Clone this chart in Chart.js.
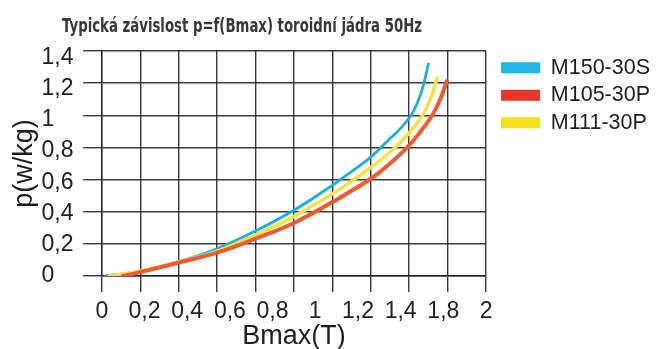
<!DOCTYPE html>
<html>
<head>
<meta charset="utf-8">
<script src="https://cdn.jsdelivr.net/npm/chart.js@4.4.0/dist/chart.umd.min.js"></script>
<style>
  html, body { margin: 0; padding: 0; background: #fff; }
  #wrap { width: 665px; height: 349px; }
</style>
</head>
<body>
<div id="wrap"><canvas id="myChart"></canvas></div>
<script>
// Chart text
const chartTitle = 'Typická závislost p=f(Bmax) toroidní jádra 50Hz';
const seriesNames = ['M150-30S', 'M105-30P', 'M111-30P'];

// Tick labels (as printed on the original)
const xTickLabels = ['0', '0,2', '0,4', '0,6', '0,8', '1', '1,2', '1,4', '1,8', '2'];
const yTickValues = [0, 0.2, 0.4, 0.6, 0.8, 1, 1.2, 1.4];
const yTickLabels = ['0', '0,2', '0,4', '0,6', '0,8', '1', '1,2', '1,4'];

// M150-30S
const bM150 = [0.02, 0.2, 0.4, 0.6, 0.8, 1.0, 1.2, 1.3, 1.4, 1.5, 1.56, 1.61, 1.64, 1.67, 1.70];
const pM150 = [0.0, 0.03, 0.09, 0.17, 0.28, 0.409, 0.564, 0.65, 0.74, 0.855, 0.925, 1.0, 1.07, 1.17, 1.32];

// M105-30P
const bM105 = [0.11, 0.2, 0.4, 0.6, 0.8, 1.0, 1.2, 1.4, 1.5, 1.59, 1.65, 1.72, 1.76, 1.796];
const pM105 = [0.0, 0.024, 0.083, 0.145, 0.232, 0.33, 0.46, 0.605, 0.70, 0.8, 0.885, 1.0, 1.095, 1.213];

// M111-30P
const bM111 = [0.04, 0.2, 0.4, 0.6, 0.8, 1.0, 1.2, 1.3, 1.4, 1.5, 1.6, 1.67, 1.71, 1.745];
const pM111 = [0.0, 0.03, 0.088, 0.155, 0.255, 0.371, 0.51, 0.59, 0.675, 0.77, 0.89, 1.0, 1.1, 1.23];

const FONT = '"Liberation Sans", Arial, sans-serif';
const gridColor = 'rgba(35,35,35,0.9)';
const textColor = '#1e1e1e';

const pts = (xs, ys) => xs.map((x, i) => ({x: x, y: ys[i]}));

// title drawn left of centre, like the original
const titlePlugin = {
    id: 'topTitle',
    afterDraw(chart) {
        const ctx = chart.ctx;
        ctx.save();
        ctx.font = 'bold 19.5px "DejaVu Sans", sans-serif';
        ctx.fillStyle = '#383838';
        ctx.textBaseline = 'middle';
        ctx.textAlign = 'left';
        ctx.fillText(chartTitle, 62, 27, 360);
        ctx.restore();
    }
};

window.onload = function () {
    Chart.defaults.font.family = FONT;
    Chart.defaults.color = textColor;

    const ctx = document.getElementById('myChart');
    const myChart = new Chart(ctx, {
        type: 'line',
        data: {
            datasets: [{
                label: seriesNames[0],
                data: pts(bM150, pM150),
                borderColor: '#1BAEE2',
                backgroundColor: '#1FB4E9',
                borderWidth: 2.8,
                order: 2
            }, {
                label: seriesNames[1],
                data: pts(bM105, pM105),
                borderColor: '#EE5A2E',
                backgroundColor: '#E6372C',
                borderWidth: 4,
                order: 0
            }, {
                label: seriesNames[2],
                data: pts(bM111, pM111),
                borderColor: '#F4E444',
                backgroundColor: '#F6DE1C',
                borderWidth: 3.6,
                order: 1
            }]
        },
        options: {
            responsive: true,
            maintainAspectRatio: false,
            animation: false,
            layout: {
                padding: {top: 51, right: 5, bottom: 0, left: 0}
            },
            elements: {
                point: {radius: 0},
                line: {tension: 0.4, fill: false, borderCapStyle: 'round'}
            },
            plugins: {
                title: {display: false},
                tooltip: {enabled: false},
                legend: {
                    display: true,
                    position: 'right',
                    align: 'start',
                    maxWidth: 200,
                    labels: {
                        boxWidth: 39,
                        boxHeight: 11,
                        padding: 6,
                        color: textColor,
                        font: {family: FONT, size: 21.5},
                        sort: (a, b) => a.datasetIndex - b.datasetIndex,
                        generateLabels: function (chart) {
                            const items = Chart.defaults.plugins.legend.labels.generateLabels(chart);
                            items.forEach(it => {
                                it.lineWidth = 0;
                                it.strokeStyle = 'rgba(0,0,0,0)';
                            });
                            return items;
                        }
                    }
                }
            },
            scales: {
                x: {
                    type: 'linear',
                    position: 'bottom',
                    weight: 0,
                    min: 0,
                    max: 2,
                    ticks: {display: false, stepSize: 0.2},
                    grid: {color: gridColor, lineWidth: 1.4, tickLength: 16, drawTicks: true},
                    border: {color: gridColor, width: 1.4}
                },
                xLab: {
                    type: 'linear',
                    axis: 'x',
                    position: 'bottom',
                    weight: 1,
                    min: 0,
                    max: 9,
                    afterBuildTicks: s => { s.ticks = xTickLabels.map((t, i) => ({value: i})); },
                    ticks: {
                        autoSkip: false,
                        maxRotation: 0,
                        padding: 8,
                        color: textColor,
                        font: {size: 23, lineHeight: 1},
                        callback: (v, i) => xTickLabels[i]
                    },
                    grid: {display: false, drawTicks: false},
                    border: {display: false},
                    title: {
                        display: true,
                        text: 'Bmax(T)',
                        color: textColor,
                        font: {size: 27, lineHeight: '10.5px'},
                        padding: {top: 0, bottom: 7.5}
                    }
                },
                y: {
                    type: 'linear',
                    position: 'left',
                    weight: 0,
                    min: 0,
                    max: 1.4,
                    ticks: {display: false, stepSize: 0.2},
                    grid: {color: gridColor, lineWidth: 1.4, tickLength: 18.7, drawTicks: true},
                    border: {color: gridColor, width: 1.4}
                },
                yLab: {
                    type: 'linear',
                    axis: 'y',
                    position: 'left',
                    weight: 1,
                    min: 0,
                    max: 1.44,
                    afterBuildTicks: s => { s.ticks = yTickValues.map(v => ({value: v})); },
                    ticks: {
                        autoSkip: false,
                        crossAlign: 'far',
                        padding: 4.8,
                        color: textColor,
                        font: {size: 23, lineHeight: 1},
                        callback: (v, i) => yTickLabels[i]
                    },
                    grid: {display: false, drawTicks: false},
                    border: {display: false}
                },
                yTitle: {
                    type: 'linear',
                    axis: 'y',
                    position: 'left',
                    weight: 2,
                    ticks: {display: false},
                    grid: {display: false, drawTicks: false},
                    border: {display: false},
                    title: {
                        display: true,
                        text: 'p(w/kg)',
                        color: textColor,
                        font: {size: 27, lineHeight: 1},
                        padding: {top: 11.5, bottom: 3}
                    }
                },
                gap: {
                    type: 'linear',
                    axis: 'y',
                    position: 'right',
                    weight: 0,
                    ticks: {display: false},
                    grid: {display: false, drawTicks: false},
                    border: {display: false},
                    title: {display: true, text: ' ', font: {size: 1, lineHeight: 1}, padding: {top: 4, bottom: 4}}
                }
            }
        },
        plugins: [titlePlugin]
    });
}
</script>
</body>
</html>
